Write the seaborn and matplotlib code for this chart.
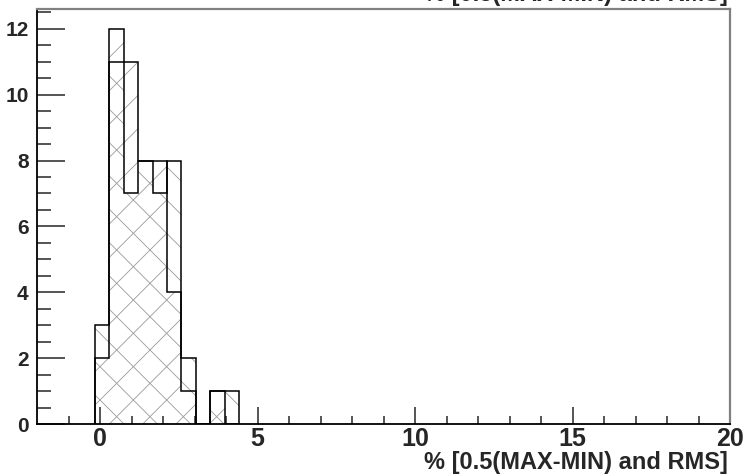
import numpy as np
import pandas as pd
import matplotlib
matplotlib.use("Agg")
import matplotlib.pyplot as plt
import seaborn as sns

# bin edges: 48 bins of 22/48 starting at -2 (only the filled part is listed)
bin_lo = -2 + 4 * 22 / 48
bin_w = 22 / 48
# "/" hatched histogram (MAX-MIN)
counts_a = [2, 12, 11, 8, 8, 4, 1, 0, 1, 0]
# "\" hatched histogram (RMS)
counts_b = [3, 11, 7, 8, 7, 8, 2, 0, 1, 1]
xlabel = "% [0.5(MAX-MIN) and RMS]"

edges = bin_lo + bin_w * np.arange(len(counts_a) + 1)
centers = (edges[:-1] + edges[1:]) / 2
df = pd.DataFrame({"x": centers, "a": counts_a, "b": counts_b})

sns.set_style("ticks")
plt.rcParams["font.family"] = ["Liberation Sans", "DejaVu Sans"]
plt.rcParams["font.weight"] = "bold"
plt.rcParams["hatch.linewidth"] = 0.6

fig = plt.figure(figsize=(7.52, 4.76), dpi=100)
ax = fig.add_axes([37 / 752, 1 - 424 / 476, (730 - 37) / 752, (424 - 9) / 476])

# hatched fills
sns.histplot(data=df, x="x", weights="a", bins=list(edges), element="step", fill=True,
             color="#999999", facecolor="none", edgecolor="#999999",
             linewidth=0, hatch="/", ax=ax)
sns.histplot(data=df, x="x", weights="b", bins=list(edges), element="step", fill=True,
             color="#999999", facecolor="none", edgecolor="#999999",
             linewidth=0, hatch="\\", ax=ax)
# outlines
ax.stairs(counts_a, edges, color="black", linewidth=1.1)
ax.stairs(counts_b, edges, color="black", linewidth=1.1)

ax.set_xlim(-2, 20)
ax.set_ylim(0, 12.6)
ax.set_xticks([0, 5, 10, 15, 20])
ax.set_xticks(np.arange(-1, 20, 1), minor=True)
ax.set_yticks(np.arange(0, 13, 2))
ax.set_yticks(np.arange(0, 12.6, 0.5), minor=True)
ax.tick_params(axis="both", which="both", direction="in", width=1.1)
ax.tick_params(axis="x", which="major", length=12, pad=2, labelsize=18)
ax.tick_params(axis="x", which="minor", length=6)
ax.tick_params(axis="y", which="major", length=20, pad=6, labelsize=15)
ax.tick_params(axis="y", which="minor", length=10)
for lab in ax.get_xticklabels() + ax.get_yticklabels():
    lab.set_fontweight("bold")

ax.set_xlabel("")
ax.set_ylabel("")
for s in ["left", "bottom"]:
    ax.spines[s].set_color("black")
    ax.spines[s].set_linewidth(1.3)
for s in ["top", "right"]:
    ax.spines[s].set_visible(True)
    ax.spines[s].set_color("#808080")
    ax.spines[s].set_linewidth(1.6)

fig.text(728 / 752, 1 - 469 / 476, xlabel, ha="right", va="baseline",
         fontsize=17, fontweight="bold")
# clipped title at the top edge
fig.text(728 / 752, 1 - 1 / 476, xlabel, ha="right", va="baseline",
         fontsize=17, fontweight="bold")

fig.savefig("out.png", dpi=100)
